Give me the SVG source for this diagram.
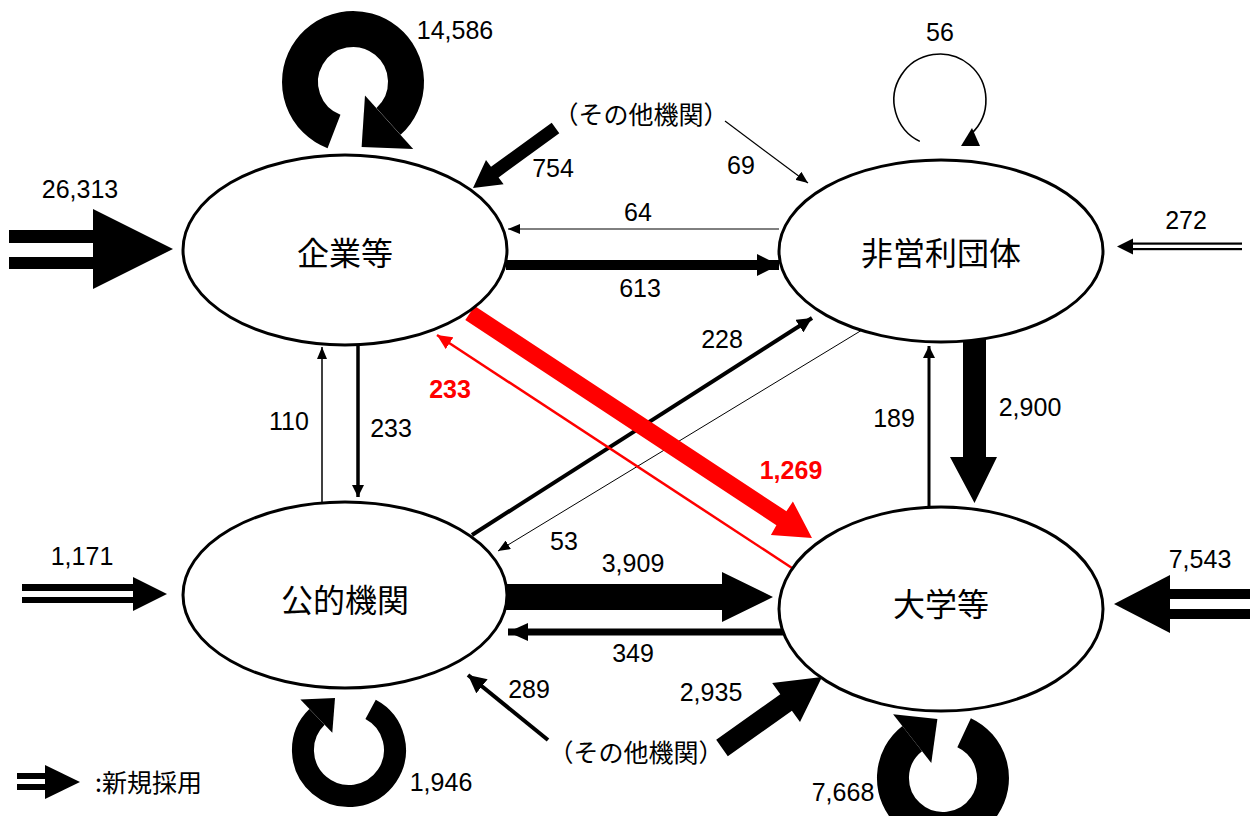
<svg xmlns="http://www.w3.org/2000/svg" width="1252" height="816" viewBox="0 0 1252 816">
<defs>
<style>
.node{fill:#fff;stroke:#000;stroke-width:3}
.lbl{font-family:"Noto Sans CJK JP","Noto Sans CJK SC",sans-serif;font-size:32px;text-anchor:middle;fill:#000}
.num{font-family:"Liberation Sans",Arial,sans-serif;font-size:25px;text-anchor:middle;fill:#000}
.red{fill:#f00;font-weight:bold}
.jp{font-family:"Noto Sans CJK JP","Noto Sans CJK SC",sans-serif;font-size:25px;text-anchor:middle;fill:#000}
.blk{fill:#000}
.rf{fill:#f00}
.ln{stroke:#000;fill:none}
.ring{stroke:#000;fill:none}
</style>
<marker id="ah-s" markerUnits="userSpaceOnUse" markerWidth="12" markerHeight="10" refX="12" refY="5" orient="auto"><path d="M0,0L12,5L0,10z" fill="#000"/></marker>
<marker id="ah-m" markerUnits="userSpaceOnUse" markerWidth="12" markerHeight="12" refX="12" refY="6" orient="auto"><path d="M0,0L12,6L0,12z" fill="#000"/></marker>
<marker id="ah-l" markerUnits="userSpaceOnUse" markerWidth="15" markerHeight="15" refX="15" refY="7.5" orient="auto"><path d="M0,0L15,7.5L0,15z" fill="#000"/></marker>
<marker id="ah-xl" markerUnits="userSpaceOnUse" markerWidth="18" markerHeight="18" refX="18" refY="9" orient="auto"><path d="M0,0L18,9L0,18z" fill="#000"/></marker>
<marker id="ah-r" markerUnits="userSpaceOnUse" markerWidth="15" markerHeight="14" refX="15" refY="7" orient="auto"><path d="M0,0L15,7L0,14z" fill="#f00"/></marker>
<marker id="ah-613" markerUnits="userSpaceOnUse" markerWidth="22" markerHeight="22" refX="22" refY="11" orient="auto"><path d="M0,0L22,11L0,22z" fill="#000"/></marker>
<marker id="ah-349" markerUnits="userSpaceOnUse" markerWidth="20" markerHeight="18" refX="20" refY="9" orient="auto"><path d="M0,0L20,9L0,18z" fill="#000"/></marker>
</defs>
<rect width="1252" height="816" fill="#fff"/>

<g id="connectors">
  <!-- new hires -->
  <g id="new-kigyo">
    <rect x="9" y="230" width="85" height="13" class="blk"/>
    <rect x="9" y="257" width="85" height="12" class="blk"/>
    <polygon points="93,209 173,249 93,289" class="blk"/>
  </g>
  <g id="new-koteki">
    <rect x="22" y="584" width="112" height="7" class="blk"/>
    <rect x="22" y="597" width="112" height="6" class="blk"/>
    <polygon points="133,577 167,594 133,611" class="blk"/>
  </g>
  <g id="new-hieiri">
    <rect x="1131" y="242.5" width="111" height="2.2" class="blk"/>
    <rect x="1131" y="248" width="111" height="2.2" class="blk"/>
    <polygon points="1133,238.5 1117,246.5 1133,254.5" class="blk"/>
  </g>
  <g id="new-daigaku">
    <rect x="1168" y="589" width="82" height="10" class="blk"/>
    <rect x="1168" y="609" width="82" height="10" class="blk"/>
    <polygon points="1170,575 1114,604 1170,633" class="blk"/>
  </g>

  <!-- self loops -->
  <path d="M334,131.5 A53,53 0 1 1 388.5,121.4" class="ring" stroke-width="36"/>
  <polygon points="365,95.4 413.2,148.9 361.6,146.9" class="blk"/>

  <path d="M919.8,141.4 A46,46 0 1 1 971.4,133.6" class="ring" stroke-width="1.6"/>
  <polygon points="961,146 980,146 972,128" class="blk"/>

  <path d="M370.6,709.4 A46,46 0 1 1 317,716.9" class="ring" stroke-width="22"/>
  <polygon points="332.3,732.7 300.4,699.6 335,698.1" class="blk"/>

  <path d="M964.1,732.7 A50,50 0 1 1 912.2,738.6" class="ring" stroke-width="32"/>
  <polygon points="931.3,763 893.1,714.2 937.4,718.9" class="blk"/>

  <!-- other institutions -->
  <polygon points="551.7,122.7 491,166.8 486,160 473,188 503.6,184.2 498.6,177.4 559.3,133.3" class="blk"/>
  <line x1="725" y1="121" x2="808" y2="183" class="ln" stroke-width="1.2" marker-end="url(#ah-s)"/>
  <line x1="548" y1="740" x2="468" y2="675" class="ln" stroke-width="4" marker-end="url(#ah-xl)"/>
  <polygon points="716.2,739.8 780.3,694.3 772.2,682.9 822,677 800,722.1 791.9,710.7 727.8,756.2" class="blk"/>

  <!-- horizontal top -->
  <line x1="779" y1="229" x2="508" y2="229" class="ln" stroke-width="1" marker-end="url(#ah-s)"/>
  <line x1="506" y1="265" x2="779" y2="265" class="ln" stroke-width="10" marker-end="url(#ah-613)"/>

  <!-- vertical left -->
  <line x1="322" y1="502" x2="322" y2="347" class="ln" stroke-width="1.5" marker-end="url(#ah-s)"/>
  <line x1="358" y1="344" x2="358" y2="497" class="ln" stroke-width="3.5" marker-end="url(#ah-m)"/>

  <!-- vertical right -->
  <line x1="929" y1="506" x2="929" y2="346" class="ln" stroke-width="3" marker-end="url(#ah-m)"/>
  <polygon points="963,338 986,338 986,457 997,457 974.5,503 950,457 963,457" class="blk"/>

  <!-- horizontal bottom -->
  <polygon points="506,584 722,584 722,572 773,597 722,622 722,610 506,610" class="blk"/>
  <line x1="790" y1="632" x2="508" y2="632" class="ln" stroke-width="7" marker-end="url(#ah-349)"/>

  <!-- diagonals -->
  <line x1="472" y1="535" x2="812" y2="318" class="ln" stroke-width="4" marker-end="url(#ah-l)"/>
  <line x1="862" y1="330" x2="498" y2="551" class="ln" stroke-width="1" marker-end="url(#ah-s)"/>
  <polygon points="465.3,320.1 776.4,525.2 770.9,534.9 812,538 792.9,501.5 786.4,511.2 474.7,305.9" class="rf"/>
  <line x1="792" y1="568" x2="437" y2="335" stroke="#f00" stroke-width="2.5" fill="none" marker-end="url(#ah-r)"/>

  <!-- legend -->
  <g id="legend">
    <rect x="17" y="773" width="29" height="6" class="blk"/>
    <rect x="17" y="784" width="29" height="6" class="blk"/>
    <polygon points="45,765 80,782 45,799" class="blk"/>
    <text x="95" y="792" class="jp" style="text-anchor:start;font-size:25px">:新規採用</text>
  </g>
</g>

<g id="node-kigyo">
  <ellipse cx="345" cy="250" rx="162" ry="95" class="node"/>
  <text x="345" y="265" class="lbl">企業等</text>
</g>
<g id="node-hieiri">
  <ellipse cx="941" cy="251" rx="162" ry="91" class="node"/>
  <text x="941" y="265" class="lbl">非営利団体</text>
</g>
<g id="node-koteki">
  <ellipse cx="345" cy="595" rx="162" ry="93" class="node"/>
  <text x="345" y="612" class="lbl">公的機関</text>
</g>
<g id="node-daigaku">
  <ellipse cx="941" cy="609" rx="162" ry="102" class="node"/>
  <text x="941" y="616" class="lbl">大学等</text>
</g>

<g id="labels">
  <text x="455" y="39" class="num">14,586</text>
  <text x="80" y="198" class="num">26,313</text>
  <text x="940" y="41" class="num">56</text>
  <text x="641" y="124" class="jp">（その他機関）</text>
  <text x="553" y="177" class="num">754</text>
  <text x="741" y="174" class="num">69</text>
  <text x="638" y="221" class="num">64</text>
  <text x="640" y="297" class="num">613</text>
  <text x="1186" y="229" class="num">272</text>
  <text x="722" y="348" class="num">228</text>
  <text x="450" y="398" class="num red">233</text>
  <text x="289" y="430" class="num">110</text>
  <text x="391" y="437" class="num">233</text>
  <text x="894" y="427" class="num">189</text>
  <text x="1030" y="416" class="num">2,900</text>
  <text x="791" y="479" class="num red">1,269</text>
  <text x="564" y="550" class="num">53</text>
  <text x="633" y="572" class="num">3,909</text>
  <text x="82" y="565" class="num">1,171</text>
  <text x="1200" y="568" class="num">7,543</text>
  <text x="633" y="662" class="num">349</text>
  <text x="529" y="698" class="num">289</text>
  <text x="711" y="701" class="num">2,935</text>
  <text x="636" y="762" class="jp">（その他機関）</text>
  <text x="441" y="791" class="num">1,946</text>
  <text x="843" y="801" class="num">7,668</text>
</g>
</svg>
